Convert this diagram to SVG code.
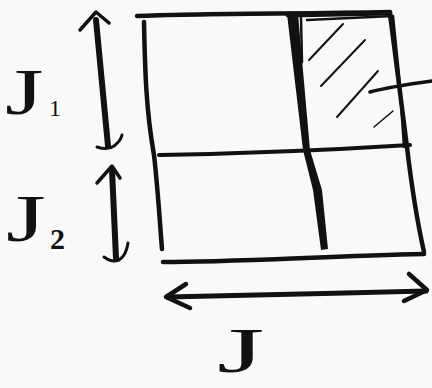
<svg xmlns="http://www.w3.org/2000/svg" width="432" height="388" viewBox="0 0 432 388">
<style>
.ink{fill:none;stroke:#111;stroke-linecap:round;stroke-linejoin:round}
.lbl{font-family:"Liberation Serif",serif;fill:#111}
</style>
<rect width="432" height="388" fill="#f9f9f7"/>
<g id="matrix">
<path class="ink" stroke-width="4.5" d="M137,16 C200,13 300,14 390,12"/>
<path class="ink" stroke-width="5" d="M288,15 L390,13"/>
<path class="ink" stroke-width="4.5" d="M144,22 C145,70 146,110 154,155 C158,190 160,225 162,249"/>
<path class="ink" stroke-width="4.5" d="M163,262 C230,262 330,256 424,254"/>
<path class="ink" stroke-width="4.5" d="M390,14 C396,60 402,110 407,147 C412,190 418,225 424,252"/>
<path class="ink" stroke-width="4" d="M159,155 C220,154 330,150 410,145"/>
<path fill="#111" d="M287,14 L298,14 L310,150 L322,190 L328,249 L321,250 L313,190 L303,150 Z"/>
<path class="ink" stroke-width="2.5" d="M301,18 L302,62"/>
<path class="ink" stroke-width="2.5" d="M307,20 L393,16 L399,75 L404,147"/>
</g>
<g id="hatch">
<path class="ink" stroke-width="2" d="M309,60 L343,24"/>
<path class="ink" stroke-width="2" d="M321,86 L365,40"/>
<path class="ink" stroke-width="2" d="M337,117 L378,71"/>
<path class="ink" stroke-width="1.6" d="M374,127 L393,111"/>
</g>
<g id="labels">
<text class="lbl" font-size="66" transform="translate(5,114) scale(1.5,1)">J</text>
<text class="lbl" x="49" y="116" font-size="24">1</text>
<text class="lbl" font-size="68" transform="translate(6,241) scale(1.5,1)">J</text>
<text class="lbl" x="50" y="249" font-size="30" font-family="Liberation Sans,sans-serif" font-weight="bold">2</text>
<text class="lbl" font-size="64" transform="translate(217,372) scale(1.9,1)">J</text>
</g>
<g id="connectors">
<path class="ink" stroke-width="6" d="M96,20 L108,146"/>
<path class="ink" stroke-width="3.5" d="M80,30 L96,12 L109,23"/>
<path class="ink" stroke-width="3" d="M97,147 C103,149 110,149 114,146 C118,143 121,140 122,135"/>
<path class="ink" stroke-width="6" d="M112,170 L116,258"/>
<path class="ink" stroke-width="3.5" d="M97,183 L112,166 L120,178"/>
<path class="ink" stroke-width="3" d="M104,257 C108,260 114,262 119,260 C124,257 127,250 128,243"/>
<path class="ink" stroke-width="5" d="M167,297 C240,296 340,293 426,291"/>
<path class="ink" stroke-width="4.5" d="M186,284 L166,297 L190,308"/>
<path class="ink" stroke-width="4.5" d="M409,274 L427,290 L404,301"/>
<path class="ink" stroke-width="3.5" d="M370,92 C385,88 410,84 432,81"/>
</g>
</svg>
